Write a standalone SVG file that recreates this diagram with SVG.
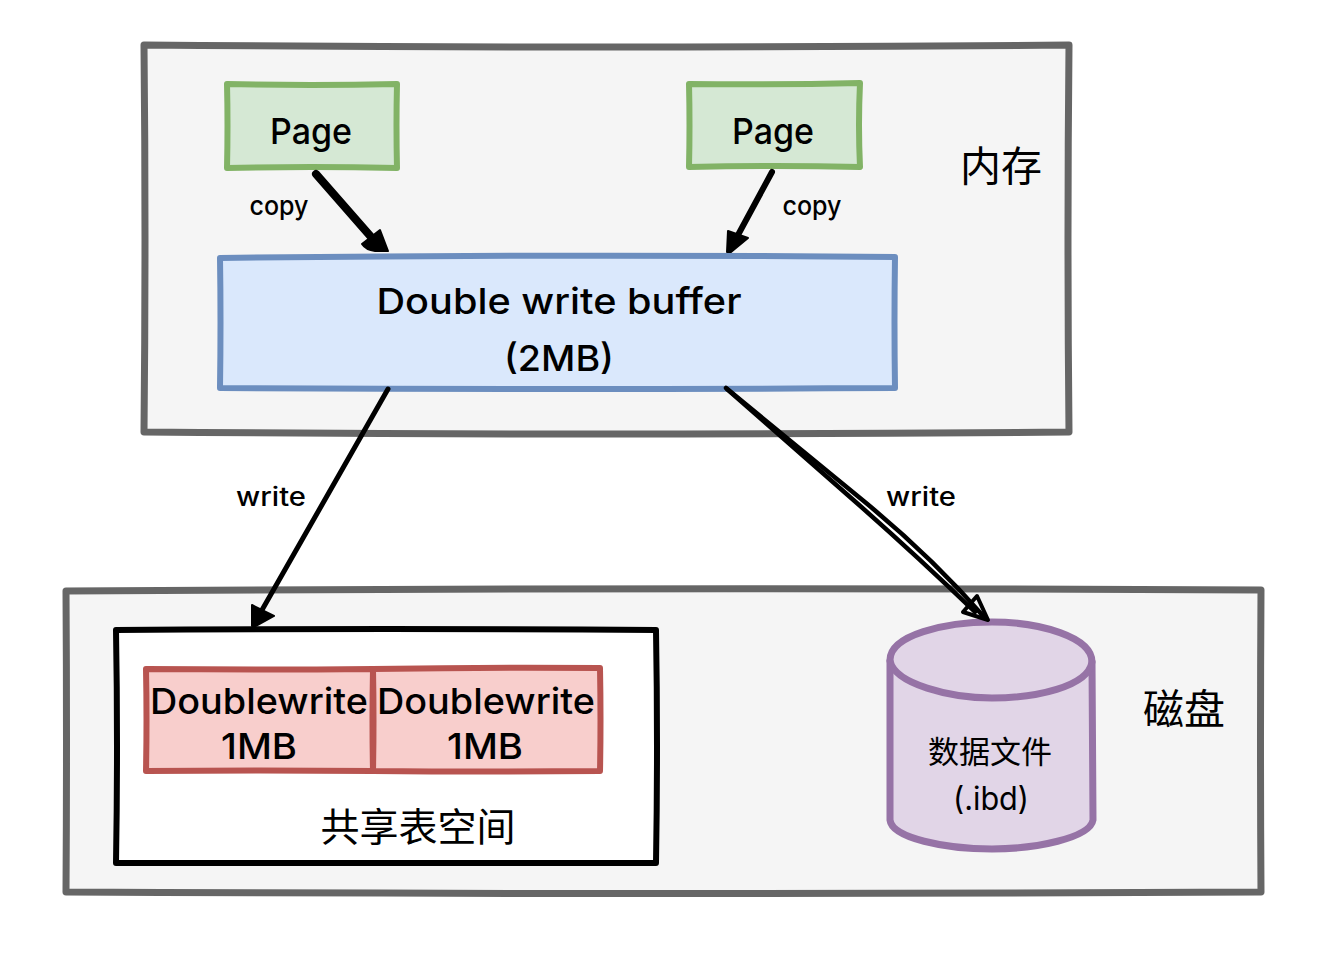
<svg xmlns="http://www.w3.org/2000/svg" width="1332" height="968" viewBox="0 0 1332 968">
<style>
text{font-family:"Inter","Noto Sans","Noto Sans CJK SC",sans-serif;fill:#000;text-anchor:middle}
.cjk{font-family:"Noto Sans CJK SC","Noto Sans",sans-serif;font-weight:400}
.box{stroke-linejoin:round;stroke-linecap:round}
.zone{fill:#f5f5f5;stroke:#666;stroke-width:7}
.green{fill:#d5e8d4;stroke:#82b366;stroke-width:6}
.blue{fill:#dae8fc;stroke:#6c8ebf;stroke-width:6}
.red{fill:#f8cecc;stroke:#b85450;stroke-width:6}
.purple{fill:#e1d5e7;stroke:#9673a6;stroke-width:7}
.line{fill:none;stroke:#000;stroke-linecap:round}
.head{fill:#000;stroke:#000;stroke-width:2;stroke-linejoin:round}
.t38{font-size:36px;font-weight:500}.t26{font-size:26px;font-weight:500}
</style>
<g id="zone-memory"><path class="box zone" d="M144 45Q600 49 1069 45Q1067 240 1069 432Q600 436 144 432Q146 240 144 45Z"/><text class="cjk" x="1001" y="181" font-size="41">内存</text></g>
<g id="zone-disk"><path class="box zone" d="M66 591Q650 587 1261 590Q1260 740 1261 892Q650 895 66 892Q67 740 66 591Z"/><text class="cjk" x="1184" y="724" font-size="41">磁盘</text></g>
<g id="page-1"><path class="box green" d="M227 84Q310 86 397 84Q396 125 397 168Q310 166 227 168Q228 125 227 84Z"/><text x="311" y="144" class="t38" textLength="82" lengthAdjust="spacingAndGlyphs">Page</text></g>
<g id="page-2"><path class="box green" d="M689 84Q775 85 860 83Q858 125 860 167Q775 165 689 167Q690 125 689 84Z"/><text x="773" y="144" class="t38" textLength="82" lengthAdjust="spacingAndGlyphs">Page</text></g>
<g id="buffer"><path class="box blue" d="M220 258Q560 254 895 257Q894 322 895 388Q560 390 220 388Q221 322 220 258Z"/><text x="559" y="314" class="t38" textLength="365" lengthAdjust="spacingAndGlyphs">Double write buffer</text><text x="559" y="371" class="t38" textLength="110" lengthAdjust="spacingAndGlyphs">(2MB)</text></g>
<g id="shared-tablespace"><path class="box" fill="#fff" stroke="#000" stroke-width="6" d="M116 630Q390 628 656 630Q658 745 656 863Q390 862 116 863Q118 745 116 630Z"/><text class="cjk" x="418" y="841" font-size="39">共享表空间</text></g>
<g id="doublewrite-1"><path class="box red" d="M146 669Q260 670 373 669Q372 720 373 771Q260 770 146 771Q147 720 146 669Z"/><text x="259" y="714" class="t38" textLength="218" lengthAdjust="spacingAndGlyphs">Doublewrite</text><text x="259" y="759" class="t38" textLength="76" lengthAdjust="spacingAndGlyphs">1MB</text></g>
<g id="doublewrite-2"><path class="box red" d="M373 669Q490 667 600 668Q601 720 600 771Q490 772 373 771Q374 720 373 669Z"/><text x="486" y="714" class="t38" textLength="218" lengthAdjust="spacingAndGlyphs">Doublewrite</text><text x="485" y="759" class="t38" textLength="76" lengthAdjust="spacingAndGlyphs">1MB</text></g>
<g id="datafile"><path class="box purple" d="M890 660C890 635 945 622 992 622C1040 622 1092 637 1092 662L1093 820C1090 838 1035 849 992 849C945 849 892 838 890 820Z"/><path class="purple box" style="fill:none" d="M890 661C895 684 950 698 992 698C1035 698 1088 687 1092 662"/><text class="cjk" x="990" y="763" font-size="31">数据文件</text><text x="991" y="810" font-size="32" textLength="76" lengthAdjust="spacingAndGlyphs">(.ibd)</text></g>
<g id="connectors">
<path class="line" stroke-width="8" d="M316 174L372 238"/><path class="head" d="M362 244L380 230L388 251L375 251Q366 250 362 244Z"/>
<path class="line" stroke-width="6" d="M772 172L738 235"/><path class="head" d="M728 231L748 238L731 252L727 252Z"/>
<path class="line" stroke-width="5" d="M388 389L262 610"/><path class="head" d="M252 605L274 616L256 626L252 626Z"/>
<path d="M963 612L977 596L988 620Z" fill="#f5f5f5" stroke="#000" stroke-width="4" stroke-linejoin="round"/>
<path class="line" stroke-width="4.5" d="M726 388L860 498Q930 555 985 618"/><path class="line" stroke-width="4.5" d="M727 389L850 497Q915 554 975 612"/>
<text x="279" y="215" class="t26" textLength="59" lengthAdjust="spacingAndGlyphs">copy</text>
<text x="812" y="215" class="t26" textLength="59" lengthAdjust="spacingAndGlyphs">copy</text>
<text x="271" y="506" class="t26" textLength="70" lengthAdjust="spacingAndGlyphs">write</text>
<text x="921" y="506" class="t26" textLength="70" lengthAdjust="spacingAndGlyphs">write</text>
</g>
</svg>
